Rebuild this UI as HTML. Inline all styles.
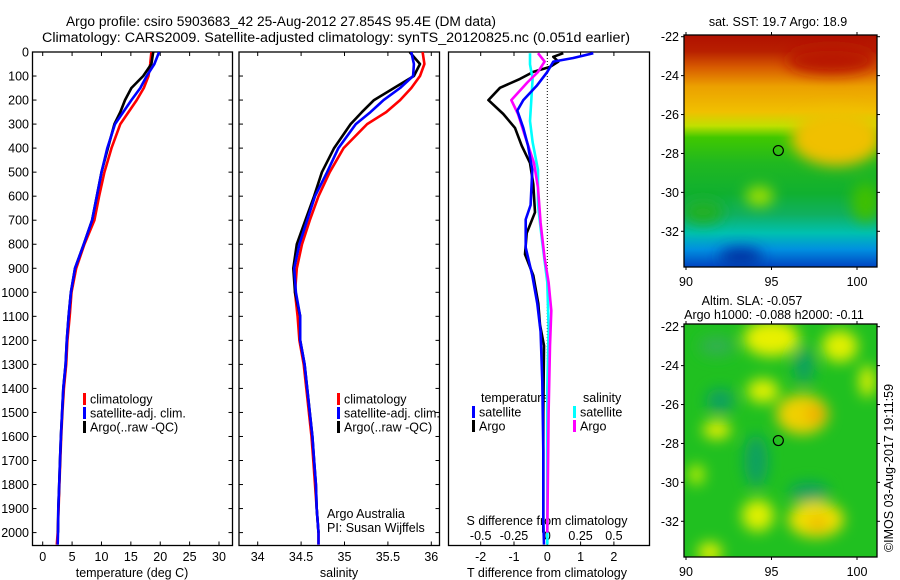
<!DOCTYPE html>
<html><head><meta charset="utf-8"><style>
body{margin:0;background:#fff;}
svg{display:block;font-family:"Liberation Sans",sans-serif;}
text{font-size:12.5px;fill:#000;}
</style></head><body>
<svg id="chart" width="900" height="580" viewBox="0 0 900 580" xmlns="http://www.w3.org/2000/svg">
<defs>
<clipPath id="c1"><rect x="32.5" y="52" width="200" height="493.5"/></clipPath>
<clipPath id="c2"><rect x="239" y="52" width="200.5" height="493.5"/></clipPath>
<clipPath id="c3"><rect x="448.5" y="52" width="201" height="493.5"/></clipPath>
<clipPath id="cm1"><rect x="684" y="35" width="193" height="232"/></clipPath>
<clipPath id="cm2"><rect x="684" y="324" width="193" height="233"/></clipPath>
<filter id="blur" x="-50%" y="-50%" width="200%" height="200%"><feGaussianBlur stdDeviation="7"/></filter>
<linearGradient id="sstg" x1="0" y1="0" x2="0" y2="1">
<stop offset="0" stop-color="#b01000"/><stop offset="0.07" stop-color="#b82000"/>
<stop offset="0.14" stop-color="#d85c00"/><stop offset="0.22" stop-color="#eca000"/>
<stop offset="0.33" stop-color="#f0c000"/><stop offset="0.39" stop-color="#c0e000"/>
<stop offset="0.44" stop-color="#40c800"/><stop offset="0.55" stop-color="#20b820"/>
<stop offset="0.68" stop-color="#10b030"/><stop offset="0.77" stop-color="#10b060"/>
<stop offset="0.85" stop-color="#00c0b0"/><stop offset="0.92" stop-color="#0090e0"/>
<stop offset="1" stop-color="#0040c0"/>
</linearGradient>
</defs>
<g id="titles">
<text x="66" y="26" textLength="430" lengthAdjust="spacingAndGlyphs" style="font-size:13.5px">Argo profile: csiro 5903683_42 25-Aug-2012 27.854S 95.4E (DM data)</text>
<text x="42" y="42" textLength="588" lengthAdjust="spacingAndGlyphs" style="font-size:13.5px">Climatology: CARS2009. Satellite-adjusted climatology: synTS_20120825.nc (0.051d earlier)</text>
</g>
<g id="axes"></g>
<g id="series"></g>
<g id="maps"></g>
</svg>
<script>
// profile data
const depths = [0,50,100,150,200,250,300,400,500,600,700,800,900,1000,1100,1200,1300,1400,1500,1600,1700,1800,1900,2000,2050];
const tempClim = [18.5,18.3,18.0,17.2,16.0,14.6,13.2,11.7,10.5,9.6,8.8,7.1,5.7,4.9,4.6,4.2,4.0,3.6,3.35,3.15,3.0,2.85,2.7,2.55,2.4];
const tempSat = [19.8,19.0,17.7,16.6,15.1,13.7,12.3,11.0,10.0,9.2,8.4,7.0,5.5,4.8,4.4,4.1,3.9,3.5,3.3,3.1,2.95,2.8,2.65,2.6,2.55];
const tempArgo = [18.8,18.5,17.1,15.1,14.0,13.2,12.2,11.1,10.0,9.2,8.4,7.0,5.5,4.8,4.4,4.1,3.9,3.5,3.3,3.1,2.95,2.8,2.65,2.6];
const salClim = [35.90,35.92,35.87,35.77,35.64,35.48,35.26,34.99,34.83,34.70,34.60,34.51,34.45,34.43,34.46,34.48,34.53,34.56,34.59,34.62,34.64,34.66,34.68,34.70,34.70];
const salSat = [35.77,35.80,35.79,35.64,35.45,35.30,35.13,34.93,34.80,34.66,34.57,34.48,34.42,34.44,34.49,34.49,34.54,34.57,34.60,34.63,34.65,34.67,34.68,34.70,34.70];
const salArgo = [35.75,35.87,35.80,35.57,35.34,35.20,35.07,34.88,34.74,34.65,34.55,34.45,34.41,34.43,34.49,34.49,34.54,34.57,34.60,34.63,34.65,34.67,34.68,34.70];
// difference data
const dTSatDepth = [5,25,40,83,141,200,244,316,390,491,637,697,814,930,1047,1164,1370,1660,1952,2050];
const dTSat = [1.38,0.78,0.18,0.0,-0.32,-0.72,-0.90,-0.72,-0.58,-0.45,-0.5,-0.65,-0.65,-0.45,-0.30,-0.2,-0.15,-0.12,-0.12,-0.1];
const dTArgoDepth = [5,20,40,62,83,112,149,200,258,316,390,462,550,667,754,842,930,1047,1135,1222,1500,2000];
const dTArgo = [0.48,0.18,0.33,0.08,-0.42,-0.82,-1.42,-1.77,-1.32,-0.97,-0.77,-0.52,-0.42,-0.37,-0.62,-0.67,-0.42,-0.27,-0.22,-0.1,-0.12,-0.12];
const dSSatDepth = [5,51,112,200,287,375,491,637,783,959,1150,1400,2050];
const dSSat = [-0.13,-0.13,-0.11,-0.12,-0.13,-0.11,-0.07,-0.07,-0.04,0.0,0.01,0.0,0.0];
const dSArgoDepth = [5,40,83,127,200,258,346,462,565,711,857,959,1076,1222,1500,2000];
const dSArgo = [-0.07,-0.02,-0.07,-0.15,-0.27,-0.22,-0.17,-0.1,-0.07,-0.05,-0.02,0.01,0.03,0.02,0.01,0.0];
// tick labels
const depthTicks = [0,100,200,300,400,500,600,700,800,900,1000,1100,1200,1300,1400,1500,1600,1700,1800,1900,2000];
const tempTicks = [0,5,10,15,20,25,30];
const salTicks = [34,34.5,35,35.5,36];
const dTTicks = [-2,-1,0,1,2];
const dSTicks = [-0.5,-0.25,0,0.25,0.5];
const dSTickLabels = ["-0.5","-0.25","0","0.25","0.5"];

const NS="http://www.w3.org/2000/svg";
const yD = d => 52 + d*0.2403;
const xT = t => 42.7 + t*5.877;
const xS = s => 257.7 + (s-34)*86.8;
const xDT = t => 547.3 + t*33.3;
const xDS = s => xDT(s*4);
const TOP=52, BOT=545.5;
const P = [[32.5,232.5],[239,439.5],[448.5,649.5]];

function mk(tag, attrs, parent, txt){
  const e=document.createElementNS(NS,tag);
  for(const k in attrs) e.setAttribute(k,attrs[k]);
  if(txt!==undefined) e.textContent=txt;
  parent.appendChild(e); return e;
}
const axes=document.getElementById('axes');
const series=document.getElementById('series');

P.forEach((p,i)=>{
  const r=mk('rect',{x:p[0],y:TOP,width:p[1]-p[0],height:BOT-TOP,fill:'none',stroke:'#000','stroke-width':1.3},axes);
  
  
});
depthTicks.forEach(d=>{
  const y=yD(d);
  const t=mk('text',{x:29,y:y+4.5,'text-anchor':'end'},axes,String(d));
  
  
  P.forEach(p=>{
    if(p===P[2]) return;
    mk('line',{x1:p[0],x2:p[0]+4,y1:y,y2:y,stroke:'#000'},axes);
    mk('line',{x1:p[1]-4,x2:p[1],y1:y,y2:y,stroke:'#000'},axes);
  });
});
function xticks(vals,fx,labels,ly){
  vals.forEach((v,i)=>{
    const x=fx(v);
    mk('line',{x1:x,x2:x,y1:TOP,y2:TOP+4,stroke:'#000'},axes);
    mk('line',{x1:x,x2:x,y1:BOT-4,y2:BOT,stroke:'#000'},axes);
    if(ly){const t=mk('text',{x:x,y:ly,'text-anchor':'middle'},axes,labels?labels[i]:String(v));
    
    }
  });
}
xticks(tempTicks,xT,null,561);
xticks(salTicks,xS,null,561);
xticks(dTTicks,xDT,null,561);
dSTicks.forEach((v,i)=>{
  const t=mk('text',{x:xDS(v),y:540,'text-anchor':'middle'},axes,dSTickLabels[i]);
  
  
});
[[132,'temperature (deg C)','x-axis-title-temperature'],[339,'salinity','x-axis-title-salinity'],[547,'T difference from climatology','x-axis-title-t-diff']].forEach(a=>{
  const t=mk('text',{x:a[0],y:577,'text-anchor':'middle'},axes,a[1]);
  
  
});
{const t=mk('text',{x:547,y:525,'text-anchor':'middle'},axes,'S difference from climatology');

}
{const l=mk('line',{x1:xDT(0),x2:xDT(0),y1:TOP,y2:BOT,stroke:'#000','stroke-dasharray':'1,2','stroke-width':1},axes);

}

function line(xs,ds,fx,color,clip,name){
  const pts=xs.map((v,i)=>fx(v).toFixed(1)+','+yD(ds[i]).toFixed(1)).join(' ');
  const pl=mk('polyline',{points:pts,fill:'none',stroke:color,'stroke-width':2.6,'stroke-linejoin':'round','clip-path':'url(#'+clip+')'},series);
  
  
}
line(tempClim,depths,xT,'#ff0000','c1','temp-climatology-line');
line(tempArgo,depths,xT,'#000000','c1','temp-argo-line');
line(tempSat,depths,xT,'#0000ff','c1','temp-satellite-line');
line(salClim,depths,xS,'#ff0000','c2','sal-climatology-line');
line(salArgo,depths,xS,'#000000','c2','sal-argo-line');
line(salSat,depths,xS,'#0000ff','c2','sal-satellite-line');
line(dTArgo,dTArgoDepth,xDT,'#000000','c3','tdiff-argo-line');
line(dSSat,dSSatDepth,xDS,'#00ffff','c3','sdiff-satellite-line');
line(dSArgo,dSArgoDepth,xDS,'#ff00ff','c3','sdiff-argo-line');
line(dTSat,dTSatDepth,xDT,'#0000ff','c3','tdiff-satellite-line');

function legend(x,y,color,label,name){
  const g=mk('g',{},axes);
  
  
  mk('rect',{x:x,y:y-6,width:3,height:12,fill:color},g);
  mk('text',{x:x+7,y:y+4.5},g,label);
}
legend(83,399,'#ff0000','climatology','legend-entry-climatology');
legend(83,413,'#0000ff','satellite-adj. clim.','legend-entry-satellite-adj');
legend(83,427,'#000000','Argo(..raw -QC)','legend-entry-argo');
legend(337,399,'#ff0000','climatology','legend-entry-sal-climatology');
legend(337,413,'#0000ff','satellite-adj. clim.','legend-entry-sal-satellite-adj');
legend(337,427,'#000000','Argo(..raw -QC)','legend-entry-sal-argo');
legend(472,412,'#0000ff','satellite','legend-entry-t-satellite');
legend(472,426,'#000000','Argo','legend-entry-t-argo');
legend(573,412,'#00ffff','satellite','legend-entry-s-satellite');
legend(573,426,'#ff00ff','Argo','legend-entry-s-argo');
[[481,402,'temperature','legend-heading-temperature'],[583,402,'salinity','legend-heading-salinity'],[327,518,'Argo Australia','credit-argo-australia'],[327,532,'PI: Susan Wijffels','credit-pi']].forEach(a=>{
  const t=mk('text',{x:a[0],y:a[1]},axes,a[2]);
  
  
});

const maps=document.getElementById('maps');
const lonX = l => 686 + (l-90)*17.1;
const latY1 = la => 36.7 + (-22-la)*19.46;
const latY2 = la => 326.7 + (-22-la)*19.46;
const sstBlobs=[[98.8,-27.2,45,28,'#f0c000'],[98.5,-23.2,45,14,'#b81800'],[93.2,-33.3,22,9,'#0030a0'],[94.3,-30.2,14,10,'#a0e000'],[91,-31,20,12,'#20b020'],[100.5,-30.5,14,20,'#40c000']];
const slaBlobs=[[95,-22.6,28,18,'#e8f000'],[99,-23,18,16,'#e0f000'],[96.8,-26.5,26,20,'#f0d000'],[97.6,-26.5,10,8,'#f0a800'],[94.5,-25.3,16,12,'#e0f000'],[91.8,-27.3,14,9,'#e8f000'],[97.6,-31.9,28,18,'#f0e000'],[97.7,-32.1,10,8,'#f0b800'],[94.2,-31.7,16,16,'#e0f000'],[91.4,-33.6,12,10,'#e8f000'],[100.6,-24.8,8,16,'#e0f000'],[90.6,-29.6,8,10,'#c0f000'],[92,-25.8,14,12,'#10a060'],[94.1,-28.9,12,26,'#10a060'],[96.9,-24,10,18,'#10a060'],[97.2,-30.5,20,10,'#10a060'],[91.8,-23,18,10,'#30b050']];
function drawMap(top,yf,clip,base,blobs,name){
  const g=mk('g',{'clip-path':'url(#'+clip+')'},maps);
  
  
  mk('rect',{x:684,y:top,width:193,height:233,fill:base},g);
  const bg=mk('g',{filter:'url(#blur)'},g);
  blobs.forEach(b=>mk('ellipse',{cx:lonX(b[0]),cy:yf(b[1]),rx:b[2],ry:b[3],fill:b[4]},bg));
  mk('rect',{x:684,y:top,width:193,height:top===35?232:233,fill:'none',stroke:'#000','stroke-width':1.3},maps);
  [-22,-24,-26,-28,-30,-32].forEach(la=>{
    const y=yf(la);
    mk('line',{x1:681,x2:684,y1:y,y2:y,stroke:'#000'},maps);
    mk('line',{x1:877,x2:880,y1:y,y2:y,stroke:'#000'},maps);
    const t=mk('text',{x:679,y:y+4.5,'text-anchor':'end'},maps,String(la));
    
    
  });
  const bot=top===35?267:557;
  [90,95,100].forEach(lo=>{
    const x=lonX(lo);
    mk('line',{x1:x,x2:x,y1:bot,y2:bot+3,stroke:'#000'},maps);
    mk('line',{x1:x,x2:x,y1:top-3,y2:top,stroke:'#000'},maps);
    const t=mk('text',{x:x,y:bot+19,'text-anchor':'middle'},maps,String(lo));
    
    
  });
  const c=mk('circle',{cx:lonX(95.4),cy:yf(-27.85),r:5,fill:'none',stroke:'#000','stroke-width':1.2},maps);
  
  
}
drawMap(35,latY1,'cm1','url(#sstg)',sstBlobs,'sst-map');
drawMap(324,latY2,'cm2','#20c020',slaBlobs,'sla-map');
[[778,26,'sat. SST: 19.7 Argo: 18.9','sst-map-title'],[752,305,'Altim. SLA: -0.057','sla-map-title'],[774,319,'Argo h1000: -0.088 h2000: -0.11','sla-map-subtitle']].forEach(a=>{
  const t=mk('text',{x:a[0],y:a[1],'text-anchor':'middle'},maps,a[2]);
  
  
});
{const t=mk('text',{x:0,y:0,'text-anchor':'middle',transform:'translate(893,468) rotate(-90)'},maps,'©IMOS 03-Aug-2017 19:11:59');

}
</script>
</body></html>
